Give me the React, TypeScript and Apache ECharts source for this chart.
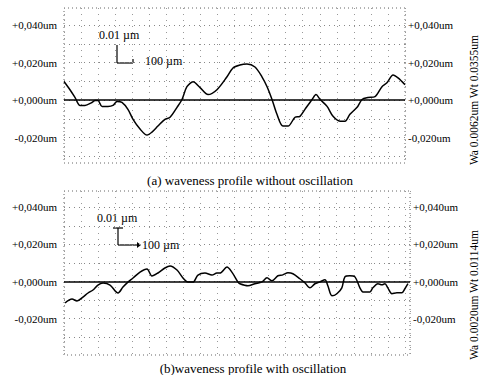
import React, { useEffect, useRef } from "react";
import * as echarts from "echarts";

// distance along profile (µm) and height (µm)
const topX = [0, 35, 65, 94, 123, 164, 182, 199, 223, 258, 287, 311, 340, 375, 405, 446, 487, 516, 551, 592, 622, 663, 692, 721, 757, 798, 845, 897, 956, 991, 1032, 1073, 1120, 1161, 1191, 1220, 1249, 1284, 1314, 1355, 1384, 1413, 1455, 1478, 1502, 1543, 1578, 1619, 1648, 1677, 1719, 1748, 1783, 1824, 1865, 1894, 1930, 1959, 2000];
const topY = [0.0099, 0.0055, 0.0013, -0.0029, -0.0029, -0.0013, -0.0003, -0.0003, -0.0034, -0.0034, -0.0029, -0.0008, -0.0013, -0.005, -0.0103, -0.0155, -0.0187, -0.0171, -0.0139, -0.0103, -0.0092, -0.0039, 0.0003, 0.0071, 0.0097, 0.0066, 0.0029, 0.0055, 0.0124, 0.0171, 0.0187, 0.0192, 0.0176, 0.0124, 0.0071, 0.0003, -0.0076, -0.0139, -0.0139, -0.0092, -0.0087, -0.005, 0.0003, 0.0029, 0.0003, -0.0034, -0.0087, -0.0113, -0.0113, -0.0076, -0.0039, 0.0003, 0.0013, 0.0018, 0.0071, 0.0092, 0.0134, 0.0118, 0.0082];

const botX = [6, 47, 76, 111, 141, 170, 199, 229, 270, 317, 346, 375, 405, 446, 487, 516, 551, 592, 622, 663, 698, 727, 757, 786, 827, 868, 897, 915, 956, 985, 1021, 1032, 1079, 1120, 1161, 1191, 1220, 1255, 1284, 1314, 1343, 1384, 1413, 1443, 1472, 1502, 1531, 1548, 1572, 1601, 1630, 1648, 1677, 1707, 1736, 1754, 1795, 1812, 1842, 1865, 1883, 1900, 1924, 1953, 1982, 2000, 2018];
const botY = [-0.0116, -0.0095, -0.0105, -0.0084, -0.0062, -0.0046, -0.0019, -0.0008, -0.0019, -0.0062, -0.003, -0.0003, 0.0019, 0.0051, 0.0068, 0.003, 0.0046, 0.0073, 0.0084, 0.0062, 0.0019, -0.0003, -0.0003, 0.0035, 0.0046, 0.0035, 0.0046, 0.0046, 0.0078, 0.0051, -0.0003, -0.0012, -0.0023, -0.0012, -0.0002, 0.002, 0.0004, 0.0031, 0.0036, 0.0047, 0.0042, 0.0015, -0.0007, -0.0034, -0.0012, -0.0002, 0.0009, -0.0023, -0.0077, -0.0066, -0.0034, 0.0025, 0.0031, 0.0025, -0.0034, -0.0056, -0.0056, -0.0034, -0.0012, -0.0018, -0.0012, -0.0034, -0.0066, -0.0061, -0.0061, -0.0039, -0.0012];

const yLabelValues = [-0.02, 0, 0.02, 0.04];
const yGridValues = [-0.03, -0.02, -0.01, 0, 0.01, 0.02, 0.03, 0.04];
const captions = ["(a) waveness profile without oscillation", "(b)waveness profile with oscillation"];
const sideTexts = ["Wa 0.0062um Wt 0.0355um", "Wa 0.0020um Wt 0.0114um"];

const fmt = (v: number) => (v < 0 ? "-" : "+") + Math.abs(v).toFixed(3).replace(".", ",") + "um";
const FONT = "Liberation Serif";

export default function App() {
  const ref = useRef<HTMLDivElement>(null);
  useEffect(() => {
    if (!ref.current) return;
    const chart = echarts.init(ref.current, undefined, { renderer: "svg" });
    const gridCommon = { show: true, borderColor: "#666", borderWidth: 1, borderType: [1, 3], backgroundColor: "transparent" };
    const xAxisCommon = (gi: number, max: number) => ({
      type: "value", gridIndex: gi, min: 0, max, interval: 100,
      axisLine: { show: false }, axisTick: { show: false }, axisLabel: { show: false },
      splitLine: { show: true, lineStyle: { color: "#999", type: [1, 5], width: 1 } },
    });
    const yAxisCommon = (gi: number, min: number, max: number, pos: string, showSplit: boolean) => ({
      type: "value", gridIndex: gi, min, max, position: pos,
      axisLine: { show: false },
      axisTick: { show: false, customValues: yGridValues },
      axisLabel: { show: true, customValues: yLabelValues, formatter: fmt, color: "#000", fontFamily: FONT, fontSize: 11, margin: pos === "left" ? 7 : 3 },
      splitLine: { show: showSplit, lineStyle: { color: "#888", type: [1, 4], width: 1 } },
    });
    const lineSeries = (xi: number, xs: number[], ys: number[]) => ({
      type: "line", xAxisIndex: xi, yAxisIndex: xi * 2,
      data: xs.map((x, i) => [x, ys[i]]),
      showSymbol: false, symbol: "none", smooth: 0.3,
      lineStyle: { color: "#000", width: 1.5 },
      markLine: { silent: true, symbol: "none", label: { show: false }, lineStyle: { color: "#000", width: 1.7, type: "solid" }, data: [{ yAxis: 0 }] },
    });
    const txt = (x: number, y: number, text: string, size: number, extra: any = {}) => ({
      type: "text", x, y, style: { text, fill: "#000", font: `${size}px "${FONT}"`, ...extra },
    });
    const ln = (x1: number, y1: number, x2: number, y2: number) => ({
      type: "line", shape: { x1, y1, x2, y2 }, style: { stroke: "#000", lineWidth: 1.2 },
    });
    const rot = (g: any) => ({ ...g, rotation: Math.PI / 2 });
    chart.setOption({
      animation: false,
      backgroundColor: "#fff",
      grid: [
        { ...gridCommon, left: 64, top: 8, width: 341, height: 155 },
        { ...gridCommon, left: 64, top: 191, width: 346, height: 164 },
      ],
      xAxis: [xAxisCommon(0, 2000), xAxisCommon(1, 2030)],
      yAxis: [
        yAxisCommon(0, -0.0336, 0.0491, "left", true),
        yAxisCommon(0, -0.0336, 0.0491, "right", false),
        yAxisCommon(1, -0.0397, 0.0489, "left", true),
        yAxisCommon(1, -0.0397, 0.0489, "right", false),
      ],
      series: [lineSeries(0, topX, topY), lineSeries(1, botX, botY)],
      graphic: [
        txt(99, 29, "0.01 µm", 12),
        ln(117, 45, 117, 63), ln(117, 63, 133, 63), ln(133, 59, 133, 63),
        txt(145, 55, "100 µm", 12),
        txt(250, 174, captions[0], 13, { align: "center" }),
        rot(txt(474, 100, sideTexts[0], 11.5, { align: "center", verticalAlign: "middle" })),
        txt(97, 212, "0.01 µm", 12),
        ln(113, 228, 123, 228), ln(118, 228, 118, 245), ln(118, 245, 137, 245),
        { type: "polygon", shape: { points: [[137, 242], [141, 245], [137, 248]] }, style: { fill: "#000" } },
        txt(142, 239, "100 µm", 12),
        txt(253, 362, captions[1], 13, { align: "center" }),
        rot(txt(474, 295, sideTexts[1], 11.5, { align: "center", verticalAlign: "middle" })),
      ],
    });
    return () => chart.dispose();
  }, []);
  return <div ref={ref} style={{ width: 481, height: 375, position: "absolute", left: 0, top: 0 }} />;
}
